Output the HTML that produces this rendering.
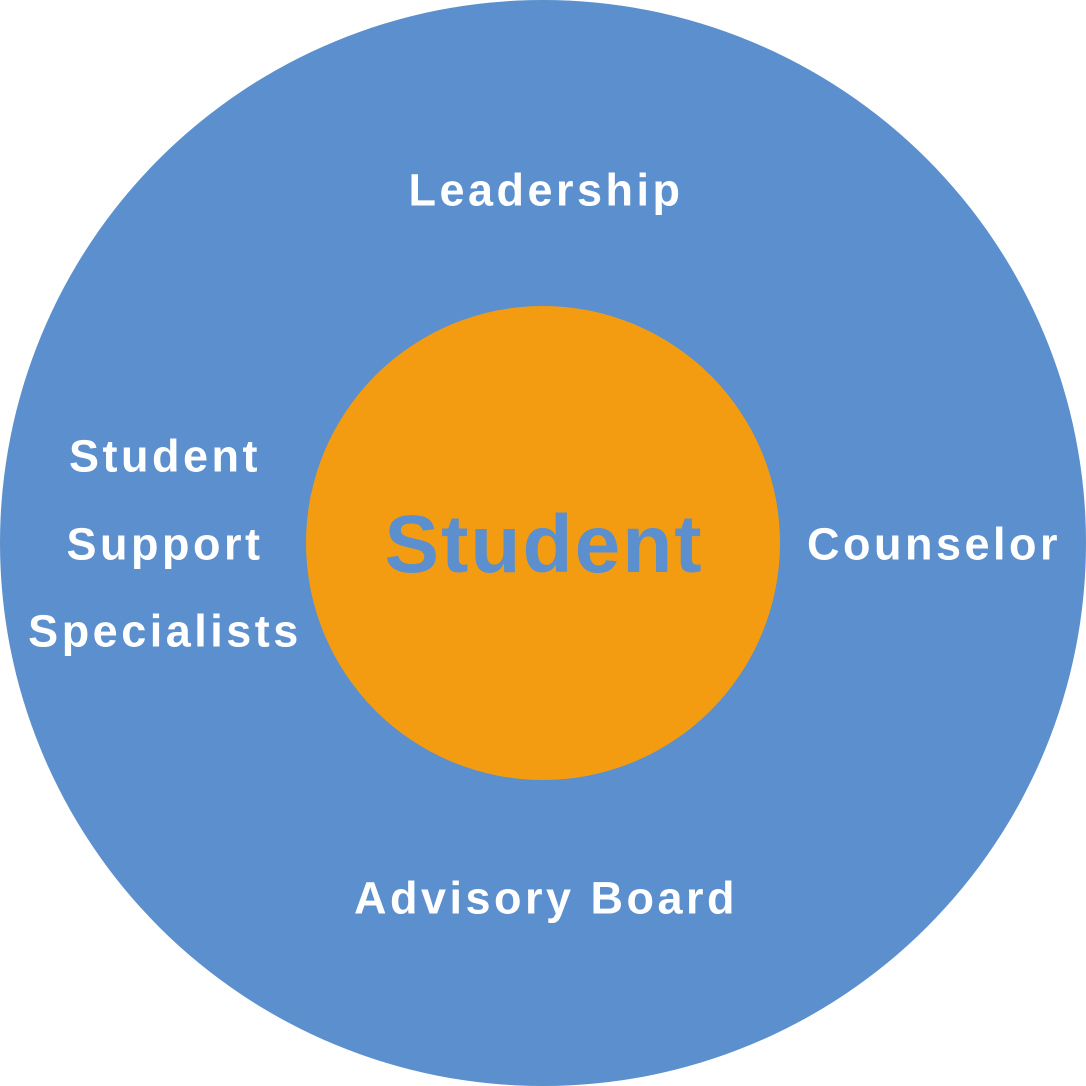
<!DOCTYPE html>
<html><head><meta charset="utf-8"><style>
html,body{margin:0;padding:0;background:#fff;}
.wrap{position:relative;width:1086px;height:1086px;overflow:hidden;}
.outer{position:absolute;left:0;top:0;width:1086px;height:1086px;border-radius:50%;background:#5b8fcd;}
.inner{position:absolute;left:306px;top:306px;width:474px;height:474px;border-radius:50%;background:#f39c12;}
.t{position:absolute;font-family:"Liberation Sans",sans-serif;font-weight:bold;color:#fff;text-align:center;transform:translate(-50%,-50%);white-space:nowrap;font-size:45px;letter-spacing:3.5px;line-height:1;}
</style></head><body><div class="wrap">
<div class="outer"></div>
<div class="inner"></div>
<div class="t" style="left:546px;top:190px;">Leadership</div>
<div class="t" style="left:546px;top:898px;">Advisory Board</div>
<div class="t" style="left:934px;top:544px;">Counselor</div>
<div class="t" style="left:165px;top:456px;">Student</div>
<div class="t" style="left:165px;top:544px;">Support</div>
<div class="t" style="left:165px;top:631px;">Specialists</div>
<div class="t" style="left:544px;top:545px;font-size:82px;color:#5b8fcd;letter-spacing:2px;">Student</div>
</div></body></html>
